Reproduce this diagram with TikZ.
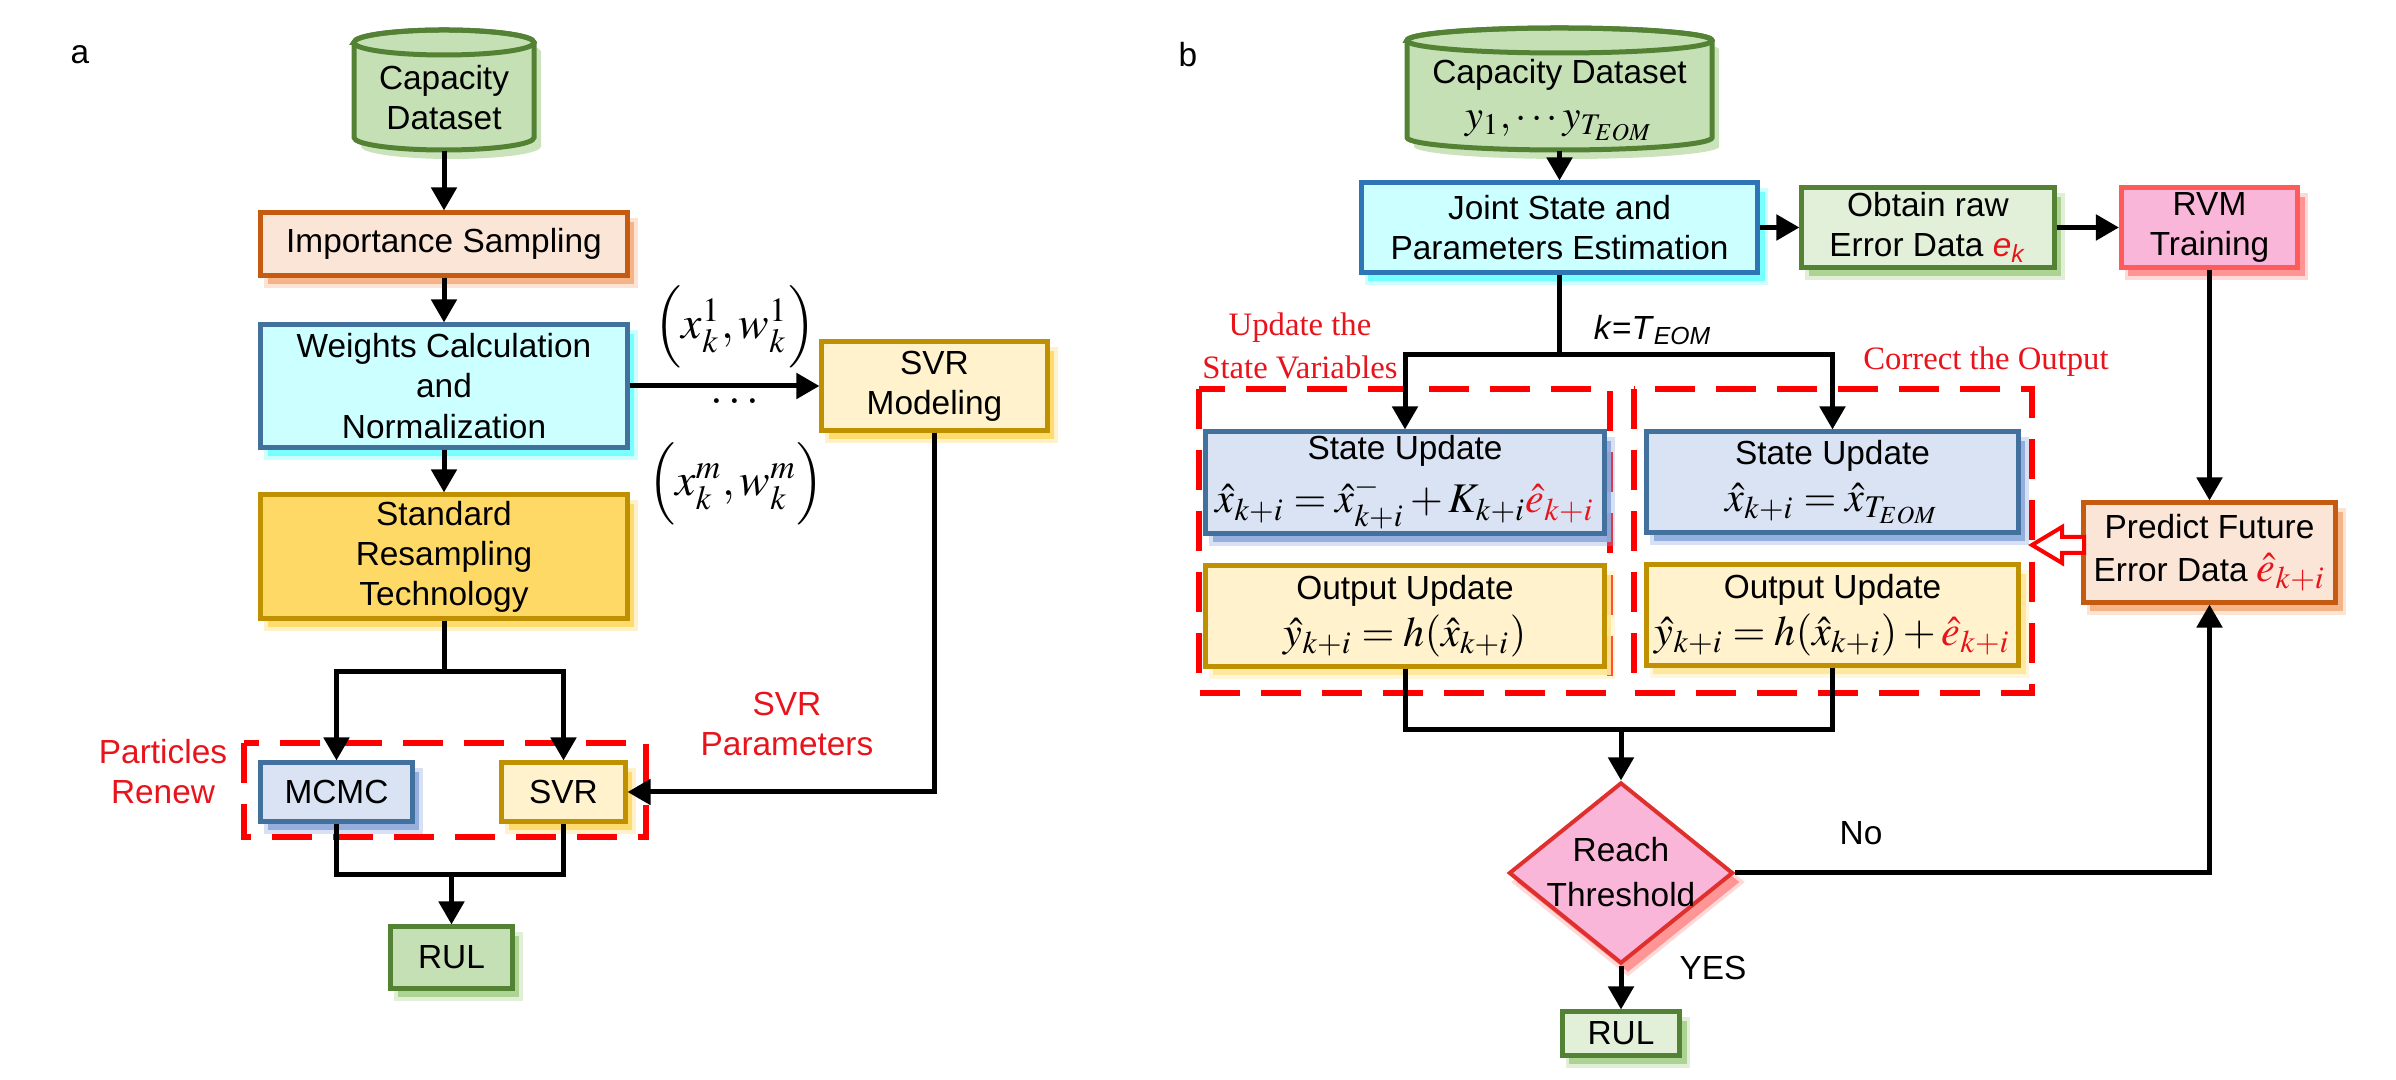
\documentclass[tikz,border=0pt]{standalone}
\usepackage{mathptmx}
\usepackage[no-math]{fontspec}
\setmainfont{Liberation Sans}
\newfontfamily\serifred{Liberation Serif}
\usetikzlibrary{arrows.meta,shapes.geometric,calc}
\definecolor{gfill}{HTML}{C5E0B4}
\definecolor{gdraw}{HTML}{548235}
\definecolor{gsh}{HTML}{A9D18E}
\definecolor{glight}{HTML}{E2F0D9}
\definecolor{ofill}{HTML}{FBE5D6}
\definecolor{odraw}{HTML}{C55A11}
\definecolor{osh}{HTML}{F4B183}
\definecolor{cfill}{HTML}{CCFFFF}
\definecolor{bdraw}{HTML}{41719C}
\definecolor{jdraw}{HTML}{2E75B6}
\definecolor{csh}{HTML}{70FFFF}
\definecolor{yfill}{HTML}{FFD966}
\definecolor{ydraw}{HTML}{BF9000}
\definecolor{ysh}{HTML}{FFD966}
\definecolor{lyfill}{HTML}{FFF2CC}
\definecolor{lysh}{HTML}{FFE699}
\definecolor{bfill}{HTML}{DAE3F3}
\definecolor{bsh}{HTML}{8FAADC}
\definecolor{pfill}{HTML}{FAB6D8}
\definecolor{pdraw}{HTML}{FF5B5B}
\definecolor{ddraw}{HTML}{E0302E}
\definecolor{rsh}{HTML}{FF8F8F}
\definecolor{myred}{HTML}{E8141C}
\newcommand\fsz[1]{\fontsize{#1}{#1}\selectfont}
\begin{document}
\begin{tikzpicture}[x=0.01cm, y=-0.01cm,
  every node/.append style={font=\fontsize{9.5}{11.4}\selectfont},
  sh/.style={preaction={fill=#1, draw=#1, line width=0.07cm, opacity=0.35, transform canvas={xshift=0.07cm,yshift=-0.09cm}},
             preaction={fill=#1, opacity=0.9, transform canvas={xshift=0.07cm,yshift=-0.09cm}}},
  box/.style 2 args={draw=#1, fill=#2, line width=0.05cm, align=center, inner sep=0pt},
  conn/.style={line width=0.05cm, -{Triangle[length=0.23cm,width=0.25cm]}},
  plain/.style={line width=0.05cm},
  grp/.style={draw=red, line width=0.06cm, dash pattern=on 0.4cm off 0.21cm},
  redlbl/.style={text=myred, align=center},
  redserif/.style={text=myred, align=center, font=\serifred\fontsize{9.3}{12}\selectfont},
]
\useasboundingbox (0,0) rectangle (2396,1080);

% ================= panel a =================
\node (lblA) at (80,55) {a};

% cylinder a
\fill[gsh, opacity=0.6, xshift=0.07cm, yshift=-0.09cm] (354,42.5) -- (354,137.5) arc[start angle=180,end angle=360,x radius=0.9cm,y radius=0.125cm] -- (534,42.5) arc[start angle=0,end angle=180,x radius=0.9cm,y radius=0.125cm] -- cycle;
\filldraw[fill=gfill, draw=gdraw, line width=0.05cm] (354,42.5) -- (354,137.5) arc[start angle=180,end angle=360,x radius=0.9cm,y radius=0.125cm] -- (534,42.5) arc[start angle=0,end angle=180,x radius=0.9cm,y radius=0.125cm] -- cycle;
\draw[gdraw, line width=0.05cm] (444,42.5) ellipse[x radius=0.9cm, y radius=0.125cm];
\node[align=center, inner sep=0pt, minimum width=1.8cm, minimum height=1.04cm] (cylA) at (444,98) {Capacity\\Dataset};

\node[box={odraw}{ofill}, sh=osh, minimum width=3.66cm, minimum height=0.62cm] (impS) at (444,244) {Importance Sampling};
\node[box={bdraw}{cfill}, sh=csh, minimum width=3.66cm, minimum height=1.22cm] (wts) at (444,386) {Weights Calculation\\and\\Normalization};
\node[box={ydraw}{yfill}, sh=ysh, minimum width=3.66cm, minimum height=1.23cm] (std) at (444,556.5) {Standard\\Resampling\\Technology};
\node[box={ydraw}{lyfill}, sh=ysh, minimum width=2.25cm, minimum height=0.88cm] (svrm) at (934.5,386) {SVR\\Modeling};

\draw[grp] (244,743) rectangle (646,837);
\node[box={bdraw}{bfill}, sh=bsh, minimum width=1.51cm, minimum height=0.58cm] (mcmc) at (336.5,792) {MCMC};
\node[box={ydraw}{lyfill}, sh=ysh, minimum width=1.23cm, minimum height=0.58cm] (svr) at (563.5,792) {SVR};
\node[box={gdraw}{gfill}, sh=gsh, minimum width=1.21cm, minimum height=0.61cm] (rulA) at (451.5,957.5) {RUL};

\draw[conn] (cylA) -- (impS);
\draw[conn] (impS) -- (wts);
\draw[conn] (wts) -- (std);
\coordinate (sa) at (444,672);
\draw[plain] (std.south) -- (sa);
\draw[conn] (sa) -| (mcmc.north);
\draw[conn] (sa) -| (svr.north);
\coordinate (ja) at (451.5,875);
\draw[plain] (mcmc.south) |- (ja);
\draw[plain] (svr.south) |- (ja);
\draw[conn] (ja) -- (rulA);
\draw[conn] (wts) -- (svrm);
\draw[conn] (svrm.south) |- (svr.east);

\node[inner sep=0pt] (p1) at (735,327) {\fsz{13}$\Big(x_k^1, w_k^1\Big)$};
\node[inner sep=0pt] (pdots) at (735,403) {\fsz{13}$\cdots$};
\node[inner sep=0pt] (pm) at (736,484) {\fsz{13}$\Big(x_k^m, w_k^m\Big)$};
\node[redlbl] (svrp) at (787,724) {SVR\\Parameters};
\node[redlbl] (pren) at (163,772) {Particles\\Renew};

% ================= panel b =================
\node (lblB) at (1188,55) {b};

\fill[gsh, opacity=0.6, xshift=0.07cm, yshift=-0.09cm] (1407,40.5) -- (1407,137.5) arc[start angle=180,end angle=360,x radius=1.525cm,y radius=0.125cm] -- (1712,40.5) arc[start angle=0,end angle=180,x radius=1.525cm,y radius=0.125cm] -- cycle;
\filldraw[fill=gfill, draw=gdraw, line width=0.05cm] (1407,40.5) -- (1407,137.5) arc[start angle=180,end angle=360,x radius=1.525cm,y radius=0.125cm] -- (1712,40.5) arc[start angle=0,end angle=180,x radius=1.525cm,y radius=0.125cm] -- cycle;
\draw[gdraw, line width=0.05cm] (1559.5,40.5) ellipse[x radius=1.525cm, y radius=0.125cm];
\node[align=center, inner sep=0pt, minimum width=3.05cm, minimum height=1.0cm] (cylB) at (1559.5,100) {Capacity Dataset\\[0.05cm]{\fsz{11.5}$y_1,\cdots y_{T_{EOM}}$}};

\node[box={jdraw}{cfill}, sh=csh, minimum width=3.96cm, minimum height=0.89cm] (joint) at (1559.5,227.5) {Joint State and\\Parameters Estimation};
\node[box={gdraw}{glight}, sh=gsh, minimum width=2.52cm, minimum height=0.79cm] (obtain) at (1928,227.5) {Obtain raw\\Error Data {\color{myred}\textit{e}\textsubscript{\textit{k}}}};
\node[box={pdraw}{pfill}, sh=rsh, minimum width=1.76cm, minimum height=0.79cm] (rvm) at (2209.5,227.5) {RVM\\Training};

\draw[grp] (1199,389) rectangle (1610,693);
\draw[grp] (1634,389) rectangle (2032,693);

\node[box={bdraw}{bfill}, sh=bsh, minimum width=3.98cm, minimum height=1.01cm] (stL) at (1405,482.5) {State Update\\[0.07cm]{\fsz{12}$\hat{x}_{k+i}=\hat{x}_{k+i}^{-}+K_{k+i}{\color{myred}\hat{e}_{k+i}}$}};
\node[box={bdraw}{bfill}, sh=bsh, minimum width=3.71cm, minimum height=1.0cm] (stR) at (1832.5,482) {State Update\\[0.07cm]{\fsz{12}$\hat{x}_{k+i}=\hat{x}_{T_{EOM}}$}};
\node[box={ydraw}{lyfill}, sh=lysh, minimum width=3.98cm, minimum height=1.0cm] (outL) at (1405,616) {Output Update\\[0.07cm]{\fsz{12}$\hat{y}_{k+i}=h(\hat{x}_{k+i})$}};
\node[box={ydraw}{lyfill}, sh=lysh, minimum width=3.72cm, minimum height=1.0cm] (outR) at (1832.5,615) {Output Update\\[0.07cm]{\fsz{12}$\hat{y}_{k+i}=h(\hat{x}_{k+i})+{\color{myred}\hat{e}_{k+i}}$}};
\node[box={odraw}{ofill}, sh=osh, minimum width=2.52cm, minimum height=0.99cm] (pred) at (2209.5,552.5) {Predict Future\\[0.03cm]Error Data {\fsz{12}$\color{myred}\hat{e}_{k+i}$}};

\node[diamond, draw=ddraw, fill=pfill, sh=rsh, line width=0.04cm, inner sep=0pt, minimum width=2.24cm, minimum height=1.81cm] (dia) at (1621,873) {};
\node[align=center] (diat) at (1621,872) {Reach\\[0.05cm]Threshold};
\node[box={gdraw}{glight}, sh=gsh, minimum width=1.17cm, minimum height=0.43cm] (rulB) at (1621,1033.5) {RUL};

\draw[conn] (cylB) -- (joint);
\draw[conn] (joint) -- (obtain);
\draw[conn] (obtain) -- (rvm);
\coordinate (sb) at (1559.5,355);
\draw[plain] (joint.south) -- (sb);
\draw[conn] (sb) -| (stL.north);
\draw[conn] (sb) -| (stR.north);
\coordinate (jb) at (1621,730);
\draw[plain] (outL.south) |- (jb);
\draw[plain] (outR.south) |- (jb);
\draw[conn] (jb) -- (dia.north);
\draw[conn] (dia.south) -- (rulB.north);
\draw[conn] (dia.east) -| (pred.south);
\draw[conn] (rvm.south) -- (pred.north);

\draw[draw=red, fill=white, line width=0.04cm, line join=miter] (2084,537) -- (2062,537) -- (2062,527) -- (2032,545) -- (2062,563) -- (2062,553) -- (2084,553) -- cycle;

\node[inner sep=1pt] (kT) at (1653,330) {\textit{k}=\textit{T}\textsubscript{\textit{EOM}}};
\node[redserif, inner sep=1pt] (updl) at (1300,346) {Update the\\State Variables};
\node[redserif, inner sep=1pt] (corr) at (1986,362) {Correct the Output};
\node (no) at (1861,833) {No};
\node (yes) at (1713,968) {YES};
\end{tikzpicture}
\end{document}
